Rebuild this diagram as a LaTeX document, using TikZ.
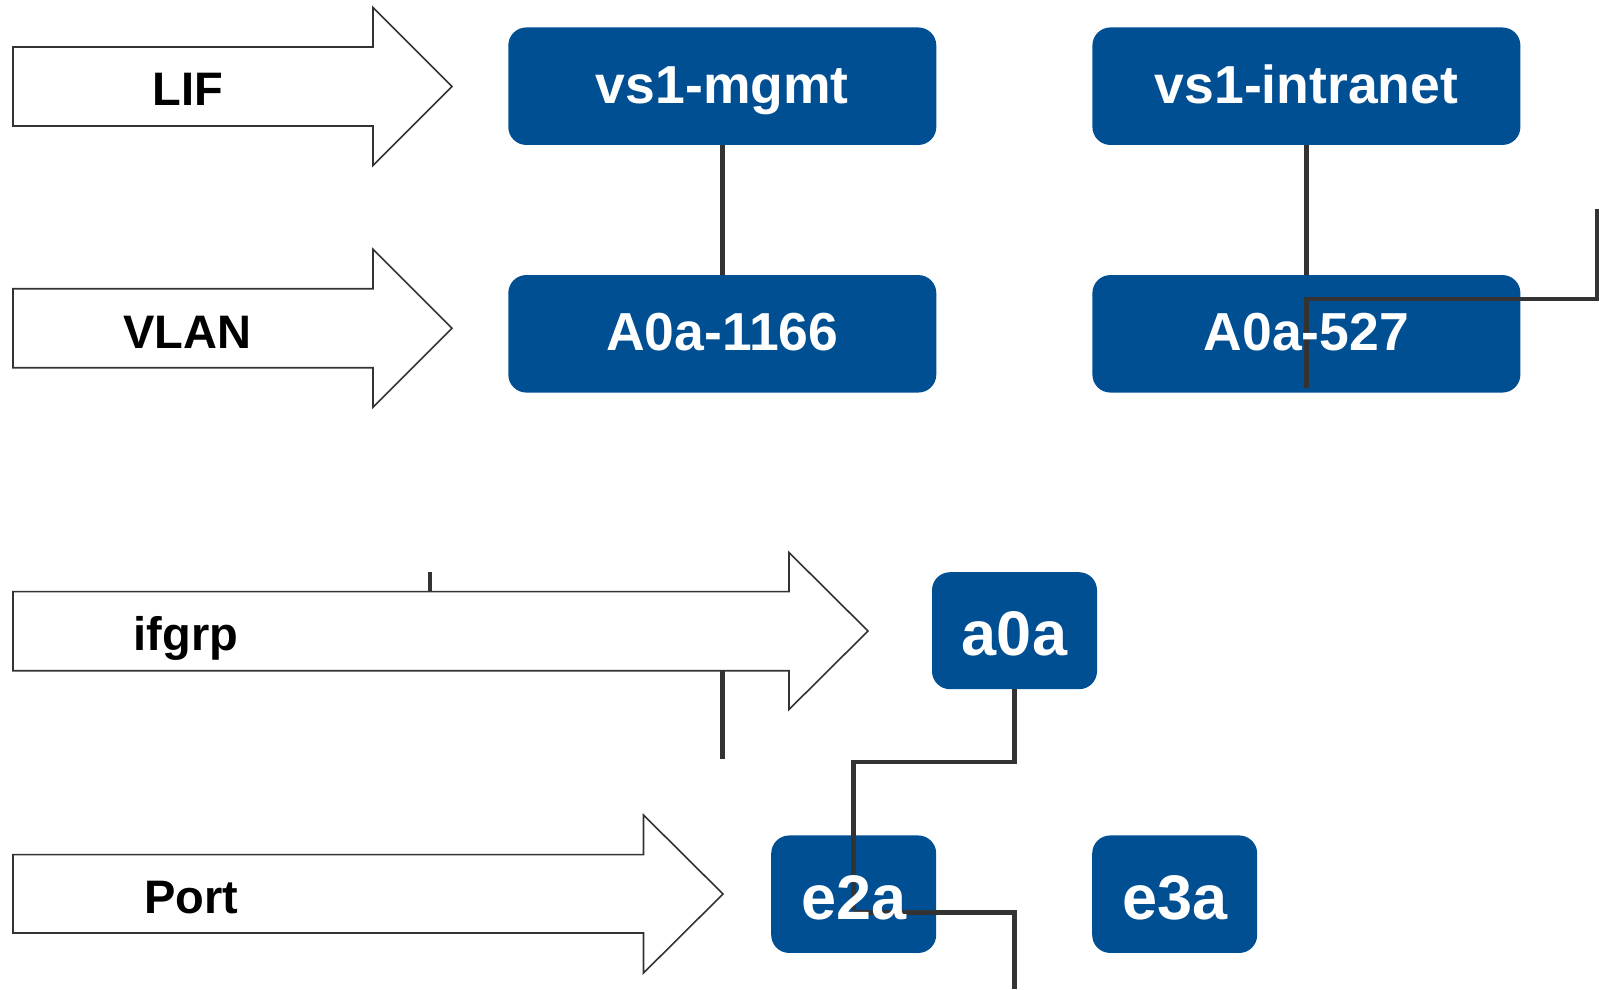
\documentclass[tikz,border=0pt]{standalone}
\usepackage{fontspec}
\setmainfont{Liberation Sans}
\definecolor{boxblue}{RGB}{0,79,147}
\definecolor{linegray}{RGB}{51,51,51}
\begin{document}
\begin{tikzpicture}[x=1pt,y=-1pt,
  box/.style={fill=boxblue, rounded corners=18pt, inner sep=0pt, draw=none},
  conn/.style={draw=linegray, line width=4.5pt},
  arrowshape/.style={draw=linegray, fill=white, line width=1.6pt, line join=miter},
  biglabel/.style={text=white, font=\fontsize{53.5}{60}\selectfont\bfseries, anchor=base, inner sep=0pt},
  smalllabel/.style={text=white, font=\fontsize{63}{70}\selectfont\bfseries, anchor=base, inner sep=0pt},
  arrowlabel/.style={text=black, font=\fontsize{47}{52}\selectfont\bfseries, anchor=base, inner sep=0pt}]
\useasboundingbox (0,0) rectangle (1599,989);

% boxes (fill only)
\node[box, minimum width=428pt, minimum height=117.5pt] (mgmt)  at (722.3,86.2) {};
\node[box, minimum width=428pt, minimum height=117.5pt] (intra) at (1306.4,86.2) {};
\node[box, minimum width=428pt, minimum height=117.5pt] (v1166) at (722.3,333.8) {};
\node[box, minimum width=428pt, minimum height=117.5pt] (v527)  at (1306.4,333.8) {};
\node[box, minimum width=165pt, minimum height=117pt] (a0a) at (1014.5,630.7) {};
\node[box, minimum width=165pt, minimum height=117.5pt] (e2a) at (853.7,894.2) {};
\node[box, minimum width=165pt, minimum height=117.5pt] (e3a) at (1174.7,894.2) {};

% connectors partly hidden by the ifgrp arrow
\coordinate (s1) at (722.3,640);
\coordinate (s2) at (722.3,759);
\coordinate (t1) at (430,572);
\coordinate (t2) at (430,610);
\draw[conn] (s1) -- (s2);
\draw[conn] (t1) -- (t2);

% arrows
\draw[arrowshape] (13,47) -- (373,47) -- (373,7.5) -- (452,86.5) -- (373,165.5) -- (373,126) -- (13,126) -- cycle;
\node[arrowlabel] (lif) at (188,105) {LIF};
\draw[arrowshape] (13,288.7) -- (373,288.7) -- (373,249.3) -- (452,328.3) -- (373,407.3) -- (373,367.7) -- (13,367.7) -- cycle;
\node[arrowlabel] (vlan) at (187,348.3) {VLAN};
\draw[arrowshape] (13,591.6) -- (789,591.6) -- (789,552.5) -- (868,631) -- (789,709.5) -- (789,670.7) -- (13,670.7) -- cycle;
\node[arrowlabel] (ifgrp) at (186,650) {ifgrp};
\draw[arrowshape] (13,854.6) -- (643.5,854.6) -- (643.5,815) -- (723,894) -- (643.5,973) -- (643.5,933) -- (13,933) -- cycle;
\node[arrowlabel] (port) at (191,913.5) {Port};

\draw[conn] (mgmt.south) -- (v1166.north);
\draw[conn] (intra.south) -- (v527.north);
\coordinate (c1) at (1597,209);
\coordinate (j1) at (1306.4,299);
\coordinate (j2) at (1306.4,388);
\draw[conn] (c1) |- (j1) -- (j2);
\coordinate (j3) at (853.7,762);
\coordinate (j4) at (853.7,910);
\draw[conn] (a0a.south) |- (j3) -- (j4);
\coordinate (j5) at (853.7,912.7);
\coordinate (j6) at (1014.5,989);
\draw[conn] (j5) -| (j6);

% box texts
\node[biglabel] (tmgmt)  at (722.3,103.2) {vs1-mgmt};
\node[biglabel] (tintra) at (1306.4,103.2) {vs1-intranet};
\node[biglabel] (t1166)  at (722.3,350.8) {A0a-1166};
\node[biglabel] (t527)   at (1306.4,350.8) {A0a-527};
\node[smalllabel] (ta0a) at (1014.5,655.5) {a0a};
\node[smalllabel] (te2a) at (853.7,919) {e2a};
\node[smalllabel] (te3a) at (1174.7,919) {e3a};
\end{tikzpicture}
\end{document}
